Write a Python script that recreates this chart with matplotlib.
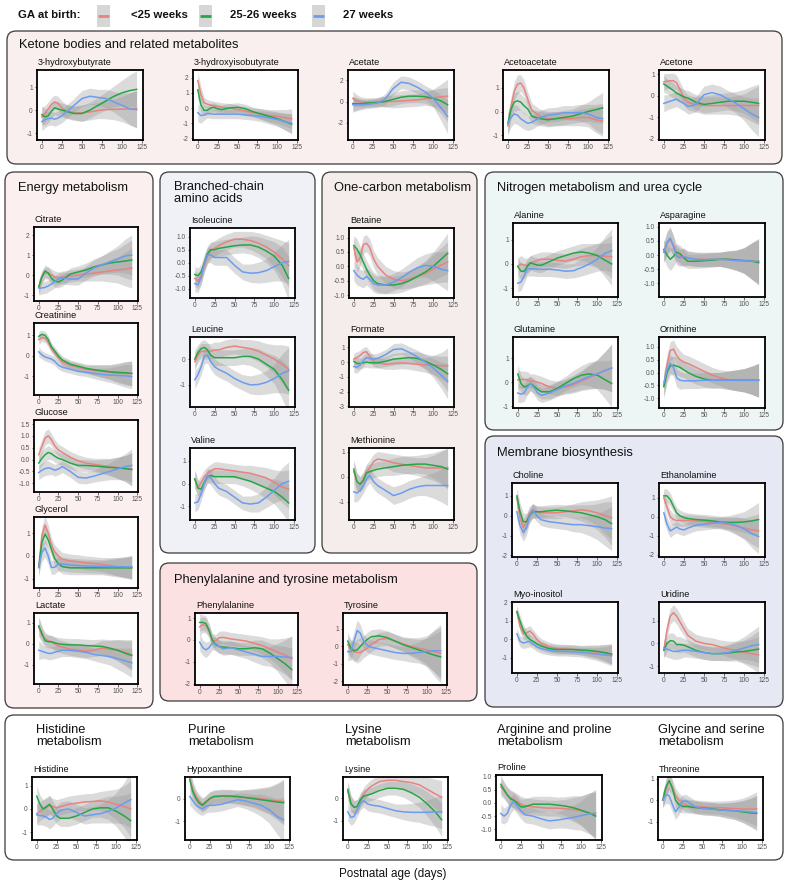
import matplotlib
matplotlib.use("Agg")
import matplotlib.pyplot as plt
from matplotlib.patches import FancyBboxPatch, Rectangle

plt.rcParams['font.family'] = ['Liberation Sans', 'DejaVu Sans']
plt.rcParams['axes.unicode_minus'] = False

# ---------------- data ----------------
DAYS = [0, 4, 8, 12, 16, 20, 25, 30, 40, 50, 60, 70, 80, 90, 100, 110, 118]
GROUPS = ["<25 weeks", "25-26 weeks", "27 weeks"]
GROUP_COLORS = ["#e8837f", "#24a744", "#6a9cf2"]
XTICKS = [0, 25, 50, 75, 100, 125]

LT25 = {
    "3-hydroxybutyrate": [-0.3, -0.15, 0.05, 0.25, 0.35, 0.3, 0.1, -0.05, -0.12, -0.12, -0.08, -0.02, 0.02, 0.03, 0.04, 0.05, 0.05],
    "3-hydroxyisobutyrate": [1.8, 0.9, 0.35, 0.25, 0.2, 0.15, 0.1, 0.05, 0.0, -0.1, -0.2, -0.3, -0.4, -0.5, -0.55, -0.65, -0.7],
    "Acetate": [0.3, 0.1, 0.0, -0.05, -0.05, -0.05, -0.05, 0.0, 0.0, 0.0, 0.05, 0.1, 0.15, 0.25, 0.35, 0.45, 0.5],
    "Acetoacetate": [-0.6, 0.2, 0.85, 1.15, 1.2, 1.0, 0.5, 0.05, -0.2, -0.3, -0.3, -0.3, -0.3, -0.25, -0.25, -0.35, -0.4],
    "Acetone": [0.65, 0.68, 0.7, 0.7, 0.6, 0.3, -0.1, -0.3, -0.4, -0.45, -0.45, -0.45, -0.45, -0.45, -0.45, -0.45, -0.45],
    "Citrate": [-0.6, -0.1, 0.1, 0.1, 0.0, -0.1, -0.15, -0.1, -0.05, 0.0, 0.05, 0.1, 0.15, 0.2, 0.25, 0.3, 0.35],
    "Creatinine": [0.8, 0.9, 0.85, 0.65, 0.35, 0.15, -0.1, -0.3, -0.45, -0.55, -0.65, -0.7, -0.75, -0.8, -0.85, -0.85, -0.85],
    "Glucose": [0.2, 0.55, 0.9, 1.0, 0.85, 0.6, 0.4, 0.3, 0.1, -0.05, -0.15, -0.2, -0.25, -0.3, -0.35, -0.38, -0.4],
    "Glycerol": [-0.5, 0.9, 1.35, 1.0, 0.5, 0.2, 0.0, -0.15, -0.22, -0.25, -0.3, -0.33, -0.37, -0.42, -0.47, -0.5, -0.5],
    "Lactate": [0.8, 0.4, 0.25, 0.15, 0.1, 0.0, -0.1, -0.15, -0.25, -0.3, -0.35, -0.3, -0.2, -0.25, -0.3, -0.4, -0.5],
    "Isoleucine": [-0.6, -0.7, -0.5, -0.1, 0.25, 0.45, 0.55, 0.65, 0.8, 0.9, 0.9, 0.85, 0.75, 0.6, 0.4, 0.15, -0.1],
    "Leucine": [-0.1, 0.15, 0.3, 0.3, 0.3, 0.3, 0.35, 0.35, 0.45, 0.5, 0.45, 0.4, 0.3, 0.15, 0.0, -0.2, -0.4],
    "Valine": [0.2, -0.2, 0.05, 0.3, 0.45, 0.55, 0.65, 0.65, 0.6, 0.55, 0.5, 0.45, 0.35, 0.25, 0.05, -0.15, -0.25],
    "Betaine": [0.65, 0.15, 0.3, 0.75, 0.8, 0.65, 0.25, 0.0, -0.3, -0.45, -0.5, -0.45, -0.35, -0.25, -0.1, 0.05, 0.15],
    "Formate": [0.2, 0.3, 0.45, 0.65, 0.7, 0.4, 0.05, -0.05, -0.15, -0.1, -0.05, -0.1, -0.15, -0.2, -0.2, -0.25, -0.25],
    "Methionine": [0.2, -0.2, -0.3, -0.1, 0.2, 0.35, 0.6, 0.7, 0.65, 0.55, 0.5, 0.45, 0.4, 0.35, 0.35, 0.35, 0.35],
    "Phenylalanine": [0.6, 0.7, 0.65, 0.4, 0.0, -0.05, 0.1, 0.12, 0.05, 0.0, -0.05, -0.15, -0.25, -0.4, -0.55, -0.7, -0.85],
    "Tyrosine": [0.1, -0.2, -0.3, -0.35, -0.35, -0.25, -0.1, 0.1, 0.4, 0.45, 0.3, 0.15, 0.0, -0.1, -0.2, -0.3, -0.4],
    "Alanine": [-0.1, 0.0, -0.05, -0.05, 0.05, 0.1, 0.15, 0.2, 0.2, 0.15, 0.12, 0.2, 0.3, 0.35, 0.35, 0.32, 0.3],
    "Asparagine": [0.1, 0.4, 0.55, 0.35, 0.05, -0.05, -0.1, -0.12, -0.15, -0.15, -0.15, -0.15, -0.15, -0.17, -0.18, -0.2, -0.22],
    "Glutamine": [0.1, 0.12, 0.12, 0.1, 0.05, 0.05, 0.0, -0.05, -0.2, -0.25, -0.2, -0.1, 0.05, 0.2, 0.35, 0.5, 0.6],
    "Ornithine": [-0.5, 0.3, 0.85, 0.9, 0.65, 0.5, 0.4, 0.35, 0.2, 0.05, -0.1, -0.2, -0.28, -0.3, -0.3, -0.3, -0.3],
    "Choline": [0.9, -0.1, -0.6, -0.3, 0.15, 0.25, 0.2, 0.15, 0.15, 0.15, 0.2, 0.25, 0.3, 0.25, 0.15, 0.0, -0.1],
    "Ethanolamine": [1.0, 0.5, 0.0, -0.15, -0.2, -0.2, -0.2, -0.2, -0.22, -0.25, -0.3, -0.35, -0.4, -0.5, -0.6, -0.7, -0.75],
    "Myo-inositol": [1.5, 0.7, 0.3, 0.35, 0.45, 0.3, 0.0, -0.2, -0.4, -0.5, -0.52, -0.55, -0.6, -0.65, -0.7, -0.75, -0.8],
    "Uridine": [-0.3, 0.6, 1.2, 1.35, 1.2, 0.95, 0.65, 0.35, 0.1, 0.0, -0.05, -0.15, -0.25, -0.3, -0.4, -0.45, -0.5],
    "Histidine": [-0.2, -0.1, 0.0, 0.05, 0.15, 0.1, 0.05, 0.1, 0.2, 0.25, 0.3, 0.32, 0.35, 0.3, 0.2, 0.1, 0.0],
    "Hypoxanthine": [0.9, 0.4, 0.1, -0.1, -0.25, -0.2, 0.0, 0.05, 0.1, 0.1, 0.05, 0.05, 0.05, 0.0, -0.05, -0.1, -0.12],
    "Lysine": [0.3, -0.2, -0.4, -0.35, -0.1, 0.2, 0.4, 0.55, 0.75, 0.8, 0.8, 0.75, 0.7, 0.6, 0.4, 0.2, 0.05],
    "Proline": [0.6, 0.45, 0.3, 0.2, 0.12, 0.05, -0.05, -0.1, -0.15, -0.18, -0.2, -0.2, -0.22, -0.25, -0.3, -0.38, -0.45],
    "Threonine": [0.0, 0.5, 0.9, 0.6, 0.2, 0.0, -0.15, -0.25, -0.3, -0.32, -0.35, -0.35, -0.38, -0.4, -0.42, -0.42, -0.42],
}

W2526 = {
    "3-hydroxybutyrate": [-0.2, -0.3, -0.25, -0.05, 0.1, 0.05, 0.0, -0.05, -0.15, -0.15, 0.0, 0.2, 0.4, 0.6, 0.75, 0.85, 0.9],
    "3-hydroxyisobutyrate": [1.2, 0.2, -0.15, -0.15, 0.0, 0.05, -0.05, -0.1, 0.0, 0.05, -0.05, -0.25, -0.4, -0.55, -0.7, -0.9, -1.05],
    "Acetate": [-0.2, -0.2, -0.2, -0.2, -0.15, -0.15, -0.12, -0.1, 0.0, 0.2, 0.4, 0.5, 0.5, 0.45, 0.3, 0.05, -0.3],
    "Acetoacetate": [-0.5, 0.1, 0.4, 0.45, 0.4, 0.25, 0.1, -0.2, -0.3, -0.35, -0.3, -0.25, -0.2, -0.1, 0.0, 0.08, 0.15],
    "Acetone": [0.55, 0.45, 0.35, 0.25, 0.12, 0.05, -0.05, -0.1, -0.3, -0.4, -0.35, -0.3, -0.25, -0.25, -0.25, -0.3, -0.35],
    "Citrate": [-0.6, -0.1, 0.2, 0.1, -0.15, -0.3, -0.35, -0.25, 0.05, 0.15, 0.25, 0.4, 0.5, 0.6, 0.65, 0.7, 0.75],
    "Creatinine": [0.95, 1.05, 1.0, 0.8, 0.45, 0.25, 0.0, -0.2, -0.4, -0.5, -0.6, -0.67, -0.72, -0.77, -0.8, -0.82, -0.85],
    "Glucose": [-0.15, 0.05, 0.2, 0.3, 0.25, 0.15, 0.05, 0.0, -0.15, -0.25, -0.25, -0.27, -0.3, -0.33, -0.35, -0.38, -0.42],
    "Glycerol": [-0.5, 0.6, 0.95, 0.7, 0.3, -0.1, -0.35, -0.47, -0.52, -0.52, -0.52, -0.52, -0.52, -0.52, -0.52, -0.52, -0.52],
    "Lactate": [0.85, 0.5, 0.15, 0.1, 0.1, 0.05, 0.0, -0.02, -0.05, -0.05, -0.08, -0.1, -0.12, -0.2, -0.3, -0.45, -0.55],
    "Isoleucine": [-0.45, -0.5, -0.35, 0.0, 0.35, 0.5, 0.5, 0.55, 0.6, 0.65, 0.68, 0.68, 0.6, 0.45, 0.25, -0.1, -0.6],
    "Leucine": [0.0, 0.25, 0.4, 0.45, 0.35, 0.15, 0.05, 0.05, 0.05, 0.05, 0.1, 0.1, 0.0, -0.2, -0.4, -0.8, -1.2],
    "Valine": [0.2, -0.2, -0.25, 0.05, 0.3, 0.35, 0.3, 0.3, 0.3, 0.3, 0.2, 0.1, -0.05, -0.2, -0.35, -0.6, -0.85],
    "Betaine": [0.72, 0.6, 0.4, 0.15, -0.1, -0.3, -0.5, -0.6, -0.65, -0.65, -0.6, -0.5, -0.35, -0.2, 0.0, 0.25, 0.45],
    "Formate": [0.05, -0.1, -0.1, -0.05, 0.0, -0.05, -0.05, -0.05, 0.05, 0.2, 0.25, 0.3, 0.25, 0.05, -0.2, -0.5, -0.8],
    "Methionine": [0.3, -0.2, -0.3, -0.15, 0.15, 0.2, 0.25, 0.3, 0.35, 0.4, 0.45, 0.48, 0.5, 0.5, 0.45, 0.4, 0.3],
    "Phenylalanine": [0.8, 0.8, 0.75, 0.45, 0.0, -0.2, -0.3, -0.32, -0.35, -0.4, -0.4, -0.35, -0.4, -0.6, -0.85, -1.1, -1.35],
    "Tyrosine": [0.3, -0.1, -0.25, -0.2, 0.0, 0.2, 0.4, 0.55, 0.6, 0.5, 0.3, 0.1, -0.05, -0.2, -0.35, -0.5, -0.6],
    "Alanine": [-0.1, -0.3, -0.3, -0.1, 0.05, 0.0, -0.05, -0.05, 0.1, 0.25, 0.35, 0.45, 0.5, 0.45, 0.35, 0.15, 0.0],
    "Asparagine": [0.2, 0.0, -0.15, -0.05, 0.1, 0.05, -0.1, -0.22, -0.22, -0.2, -0.18, -0.15, -0.15, -0.18, -0.2, -0.22, -0.27],
    "Glutamine": [0.35, -0.05, -0.2, -0.15, -0.05, -0.15, -0.3, -0.4, -0.4, -0.25, -0.05, 0.15, 0.3, 0.35, 0.3, 0.1, -0.05],
    "Ornithine": [-0.55, 0.0, 0.25, 0.28, 0.25, 0.2, 0.1, 0.0, -0.15, -0.25, -0.3, -0.3, -0.3, -0.3, -0.3, -0.3, -0.3],
    "Choline": [1.0, 0.2, -0.3, -0.3, 0.0, 0.2, 0.2, 0.2, 0.25, 0.28, 0.25, 0.2, 0.15, 0.05, -0.05, -0.2, -0.4],
    "Ethanolamine": [1.1, 1.1, 0.9, 0.55, 0.2, 0.05, -0.05, -0.1, -0.15, -0.18, -0.22, -0.28, -0.3, -0.3, -0.28, -0.22, -0.15],
    "Myo-inositol": [1.5, 1.0, 0.5, 0.2, 0.0, -0.1, -0.25, -0.35, -0.5, -0.55, -0.55, -0.55, -0.58, -0.6, -0.65, -0.72, -0.8],
    "Uridine": [-0.3, 0.0, 0.12, 0.1, -0.05, -0.05, -0.08, -0.15, -0.3, -0.4, -0.45, -0.45, -0.42, -0.38, -0.35, -0.3, -0.25],
    "Histidine": [0.55, 0.2, 0.0, 0.1, 0.2, 0.0, -0.3, -0.4, -0.4, -0.3, -0.15, 0.0, 0.05, 0.05, -0.1, -0.3, -0.5],
    "Hypoxanthine": [0.85, 0.3, 0.0, -0.2, -0.3, -0.15, 0.0, 0.1, 0.12, 0.12, 0.1, 0.05, 0.0, -0.05, -0.1, -0.15, -0.18],
    "Lysine": [0.4, -0.25, -0.4, -0.35, -0.05, 0.1, 0.15, 0.2, 0.35, 0.45, 0.45, 0.4, 0.25, 0.05, -0.25, -0.6, -0.95],
    "Proline": [0.7, 0.5, 0.3, 0.15, 0.1, 0.0, -0.15, -0.15, -0.05, -0.05, -0.05, -0.08, -0.12, -0.18, -0.28, -0.38, -0.5],
    "Threonine": [0.0, 0.6, 0.9, 0.55, 0.0, -0.2, -0.3, -0.3, -0.35, -0.38, -0.4, -0.45, -0.48, -0.5, -0.55, -0.6, -0.62],
}

W27 = {
    "3-hydroxybutyrate": [-0.5, -0.42, -0.37, -0.35, -0.4, -0.35, -0.25, -0.1, 0.2, 0.5, 0.6, 0.55, 0.5, 0.35, 0.2, 0.05, 0.02],
    "3-hydroxyisobutyrate": [-0.3, -0.5, -0.45, -0.35, -0.38, -0.4, -0.4, -0.4, -0.4, -0.4, -0.45, -0.5, -0.55, -0.65, -0.75, -0.9, -1.0],
    "Acetate": [-0.3, -0.3, -0.3, -0.3, -0.28, -0.25, -0.2, -0.15, 0.2, 1.2, 1.8, 1.7, 1.35, 0.9, 0.3, -0.6, -1.4],
    "Acetoacetate": [-0.5, -0.25, -0.1, -0.15, -0.3, -0.4, -0.5, -0.45, -0.25, -0.15, -0.12, -0.05, -0.05, -0.05, -0.1, -0.25, -0.3],
    "Acetone": [-0.35, -0.3, -0.25, -0.2, -0.15, -0.25, -0.35, -0.5, -0.4, 0.05, 0.15, 0.05, -0.15, -0.35, -0.6, -0.85, -1.0],
    "Citrate": [-0.65, -0.65, -0.62, -0.55, -0.45, -0.35, -0.2, -0.15, -0.2, -0.2, 0.1, 0.35, 0.5, 0.65, 0.8, 0.95, 1.0],
    "Creatinine": [0.2, 0.05, -0.05, -0.1, -0.15, -0.25, -0.45, -0.55, -0.65, -0.75, -0.8, -0.85, -0.9, -0.93, -0.95, -0.97, -1.0],
    "Glucose": [-0.55, -0.45, -0.38, -0.35, -0.38, -0.45, -0.4, -0.3, -0.5, -0.75, -0.78, -0.7, -0.6, -0.5, -0.4, -0.3, -0.25],
    "Glycerol": [-0.5, 0.15, 0.35, 0.0, -0.5, -0.5, -0.35, -0.35, -0.4, -0.42, -0.44, -0.45, -0.46, -0.47, -0.47, -0.48, -0.48],
    "Lactate": [-0.3, -0.35, -0.4, -0.45, -0.45, -0.4, -0.35, -0.3, -0.3, -0.35, -0.4, -0.5, -0.55, -0.6, -0.7, -0.8, -0.9],
    "Isoleucine": [-0.8, -0.85, -0.55, 0.0, 0.3, 0.3, 0.2, 0.2, 0.2, -0.1, -0.35, -0.4, -0.38, -0.3, -0.15, 0.0, 0.05],
    "Leucine": [-0.8, -0.6, -0.3, 0.1, 0.15, -0.1, -0.3, -0.4, -0.55, -0.75, -0.9, -1.0, -0.98, -0.9, -0.75, -0.55, -0.45],
    "Valine": [-0.85, -0.8, -0.45, 0.0, 0.35, 0.25, 0.0, -0.2, -0.35, -0.6, -0.85, -0.9, -0.85, -0.6, -0.3, 0.0, 0.1],
    "Betaine": [-0.15, -0.3, -0.4, -0.45, -0.35, -0.45, -0.6, -0.65, -0.65, -0.55, -0.4, -0.2, -0.05, 0.03, 0.0, -0.1, -0.15],
    "Formate": [-0.3, -0.35, -0.2, 0.1, 0.3, 0.25, 0.2, 0.25, 0.5, 0.85, 0.9, 0.65, 0.35, 0.0, -0.4, -0.9, -1.3],
    "Methionine": [-0.6, -0.65, -0.55, -0.35, -0.1, 0.05, -0.2, -0.35, -0.55, -0.75, -0.65, -0.5, -0.4, -0.35, -0.35, -0.35, -0.35],
    "Phenylalanine": [-0.1, -0.35, -0.45, -0.35, -0.15, -0.15, -0.3, -0.4, -0.35, -0.45, -0.55, -0.65, -0.75, -0.75, -0.75, -0.78, -0.8],
    "Tyrosine": [-0.3, -0.3, 0.3, 0.9, 0.75, 0.3, 0.05, -0.05, -0.15, -0.25, -0.35, -0.4, -0.4, -0.35, -0.3, -0.25, -0.25],
    "Alanine": [-0.8, -0.75, -0.5, -0.2, -0.2, -0.2, -0.22, -0.22, -0.22, -0.25, -0.3, -0.28, -0.15, 0.0, 0.2, 0.45, 0.55],
    "Asparagine": [0.1, 0.45, 0.6, 0.3, -0.05, -0.1, -0.05, -0.1, -0.15, -0.17, -0.15, -0.15, -0.17, -0.2, -0.2, -0.22, -0.22],
    "Glutamine": [-0.45, -0.5, -0.45, -0.2, -0.05, -0.2, -0.45, -0.55, -0.45, -0.3, -0.15, -0.05, 0.1, 0.25, 0.35, 0.5, 0.6],
    "Ornithine": [-0.4, 0.1, 0.35, 0.2, -0.2, -0.3, -0.32, -0.32, -0.32, -0.3, -0.3, -0.3, -0.3, -0.3, -0.3, -0.3, -0.3],
    "Choline": [0.2, -0.5, -0.85, -0.6, 0.0, 0.3, 0.0, -0.2, -0.3, -0.35, -0.4, -0.45, -0.45, -0.5, -0.55, -0.62, -0.65],
    "Ethanolamine": [0.2, -0.4, -0.75, -0.65, -0.55, -0.65, -0.7, -0.6, -0.45, -0.4, -0.35, -0.3, -0.35, -0.45, -0.65, -0.9, -1.05],
    "Myo-inositol": [0.3, -0.1, -0.2, -0.15, -0.1, -0.25, -0.4, -0.5, -0.6, -0.65, -0.65, -0.68, -0.7, -0.75, -0.8, -0.85, -0.88],
    "Uridine": [-0.2, -0.25, -0.3, -0.35, -0.35, -0.32, -0.3, -0.3, -0.35, -0.4, -0.45, -0.45, -0.4, -0.3, -0.2, -0.1, -0.05],
    "Histidine": [-0.25, -0.28, -0.3, -0.35, -0.45, -0.4, -0.2, -0.05, 0.0, -0.15, -0.3, -0.25, -0.2, -0.1, 0.05, 0.25, 0.4],
    "Hypoxanthine": [0.1, -0.1, -0.3, -0.4, -0.45, -0.35, -0.3, -0.3, -0.25, -0.15, -0.05, -0.1, -0.2, -0.3, -0.5, -0.8, -0.95],
    "Lysine": [-0.6, -0.85, -0.8, -0.5, -0.2, -0.1, -0.25, -0.3, -0.35, -0.45, -0.55, -0.6, -0.62, -0.62, -0.62, -0.6, -0.6],
    "Proline": [-0.4, -0.5, -0.4, -0.1, 0.05, -0.1, -0.3, -0.45, -0.5, -0.6, -0.68, -0.65, -0.6, -0.55, -0.48, -0.42, -0.38],
    "Threonine": [0.0, 0.25, 0.2, -0.2, -0.55, -0.35, -0.05, -0.05, -0.3, -0.4, -0.42, -0.45, -0.48, -0.5, -0.52, -0.55, -0.58],
}

BAND = {
    "3-hydroxybutyrate": [0.4, 0.35, 0.3, 0.3, 0.3, 0.3, 0.3, 0.3, 0.3, 0.35, 0.35, 0.35, 0.4, 0.45, 0.55, 0.7, 0.8],
    "3-hydroxyisobutyrate": [0.6, 0.5, 0.35, 0.3, 0.3, 0.3, 0.3, 0.3, 0.3, 0.3, 0.3, 0.3, 0.35, 0.4, 0.45, 0.55, 0.65],
    "Acetate": [0.7, 0.6, 0.5, 0.45, 0.4, 0.4, 0.4, 0.4, 0.5, 0.6, 0.6, 0.6, 0.6, 0.6, 0.8, 1.2, 1.6],
    "Acetoacetate": [0.45, 0.4, 0.4, 0.4, 0.35, 0.35, 0.3, 0.3, 0.3, 0.3, 0.3, 0.3, 0.3, 0.35, 0.4, 0.55, 0.65],
    "Acetone": [0.4, 0.35, 0.35, 0.35, 0.35, 0.35, 0.35, 0.35, 0.35, 0.4, 0.4, 0.4, 0.4, 0.45, 0.55, 0.75, 0.9],
    "Citrate": [0.35, 0.3, 0.3, 0.3, 0.3, 0.3, 0.3, 0.3, 0.3, 0.3, 0.35, 0.4, 0.45, 0.55, 0.65, 0.85, 1.0],
    "Creatinine": [0.25, 0.2, 0.2, 0.2, 0.2, 0.2, 0.2, 0.2, 0.2, 0.2, 0.2, 0.25, 0.3, 0.35, 0.45, 0.55, 0.6],
    "Glucose": [0.3, 0.3, 0.3, 0.3, 0.25, 0.25, 0.25, 0.25, 0.25, 0.25, 0.25, 0.25, 0.3, 0.35, 0.45, 0.55, 0.7],
    "Glycerol": [0.35, 0.4, 0.4, 0.35, 0.3, 0.3, 0.3, 0.3, 0.3, 0.3, 0.3, 0.3, 0.3, 0.35, 0.4, 0.45, 0.5],
    "Lactate": [0.45, 0.35, 0.3, 0.3, 0.3, 0.3, 0.3, 0.3, 0.3, 0.3, 0.3, 0.3, 0.35, 0.4, 0.5, 0.6, 0.7],
    "Isoleucine": [0.3, 0.3, 0.3, 0.3, 0.3, 0.3, 0.3, 0.3, 0.3, 0.3, 0.3, 0.35, 0.4, 0.45, 0.55, 0.7, 0.85],
    "Leucine": [0.35, 0.3, 0.3, 0.3, 0.3, 0.3, 0.3, 0.3, 0.3, 0.3, 0.3, 0.35, 0.4, 0.45, 0.55, 0.75, 0.9],
    "Valine": [0.4, 0.35, 0.3, 0.3, 0.3, 0.3, 0.3, 0.3, 0.3, 0.3, 0.3, 0.35, 0.4, 0.45, 0.55, 0.7, 0.85],
    "Betaine": [0.35, 0.35, 0.3, 0.3, 0.3, 0.3, 0.3, 0.3, 0.3, 0.3, 0.3, 0.3, 0.35, 0.4, 0.5, 0.6, 0.7],
    "Formate": [0.4, 0.4, 0.35, 0.35, 0.35, 0.35, 0.35, 0.35, 0.35, 0.4, 0.4, 0.4, 0.45, 0.5, 0.65, 0.9, 1.2],
    "Methionine": [0.4, 0.35, 0.3, 0.3, 0.3, 0.3, 0.3, 0.3, 0.3, 0.35, 0.35, 0.35, 0.35, 0.4, 0.5, 0.65, 0.8],
    "Phenylalanine": [0.4, 0.35, 0.35, 0.3, 0.3, 0.3, 0.3, 0.3, 0.3, 0.3, 0.3, 0.35, 0.4, 0.45, 0.6, 0.8, 1.0],
    "Tyrosine": [0.5, 0.5, 0.55, 0.6, 0.5, 0.4, 0.4, 0.4, 0.4, 0.4, 0.4, 0.4, 0.5, 0.6, 0.8, 1.2, 1.5],
    "Alanine": [0.35, 0.35, 0.3, 0.3, 0.3, 0.3, 0.3, 0.3, 0.3, 0.3, 0.3, 0.3, 0.35, 0.4, 0.5, 0.7, 0.9],
    "Asparagine": [0.35, 0.4, 0.4, 0.35, 0.3, 0.3, 0.3, 0.25, 0.25, 0.25, 0.25, 0.25, 0.3, 0.35, 0.45, 0.65, 0.8],
    "Glutamine": [0.4, 0.35, 0.35, 0.35, 0.3, 0.3, 0.3, 0.3, 0.3, 0.3, 0.3, 0.35, 0.4, 0.5, 0.6, 0.8, 1.0],
    "Ornithine": [0.45, 0.4, 0.35, 0.35, 0.35, 0.35, 0.3, 0.3, 0.3, 0.3, 0.3, 0.3, 0.35, 0.4, 0.45, 0.55, 0.65],
    "Choline": [0.4, 0.45, 0.45, 0.4, 0.35, 0.35, 0.3, 0.3, 0.3, 0.3, 0.3, 0.35, 0.4, 0.5, 0.65, 0.9, 1.1],
    "Ethanolamine": [0.4, 0.35, 0.35, 0.3, 0.3, 0.3, 0.3, 0.3, 0.3, 0.3, 0.3, 0.3, 0.35, 0.45, 0.55, 0.75, 0.9],
    "Myo-inositol": [0.3, 0.3, 0.3, 0.3, 0.3, 0.25, 0.25, 0.25, 0.25, 0.25, 0.25, 0.25, 0.25, 0.3, 0.35, 0.45, 0.55],
    "Uridine": [0.35, 0.35, 0.35, 0.35, 0.35, 0.35, 0.3, 0.3, 0.3, 0.3, 0.3, 0.3, 0.35, 0.4, 0.5, 0.65, 0.8],
    "Histidine": [0.45, 0.4, 0.4, 0.4, 0.4, 0.35, 0.35, 0.35, 0.35, 0.35, 0.35, 0.35, 0.4, 0.5, 0.65, 0.9, 1.2],
    "Hypoxanthine": [0.4, 0.35, 0.3, 0.3, 0.3, 0.3, 0.3, 0.3, 0.3, 0.3, 0.3, 0.35, 0.4, 0.5, 0.6, 0.8, 1.0],
    "Lysine": [0.4, 0.35, 0.3, 0.3, 0.3, 0.3, 0.3, 0.3, 0.3, 0.3, 0.3, 0.35, 0.4, 0.45, 0.55, 0.65, 0.75],
    "Proline": [0.35, 0.3, 0.3, 0.3, 0.3, 0.3, 0.3, 0.3, 0.3, 0.3, 0.3, 0.3, 0.35, 0.45, 0.55, 0.75, 0.9],
    "Threonine": [0.35, 0.4, 0.4, 0.35, 0.35, 0.35, 0.3, 0.3, 0.3, 0.3, 0.3, 0.3, 0.35, 0.4, 0.5, 0.65, 0.8],
}

YLIM = {
    "3-hydroxybutyrate": (-1.3, 1.74), "3-hydroxyisobutyrate": (-2.1, 2.5), "Acetate": (-3.6, 2.95),
    "Acetoacetate": (-1.2, 1.75), "Acetone": (-2.05, 1.2),
    "Citrate": (-1.3, 2.4), "Creatinine": (-1.9, 1.6), "Glucose": (-1.37, 1.67),
    "Glycerol": (-1.4, 1.7), "Lactate": (-1.9, 1.46),
    "Isoleucine": (-1.35, 1.33), "Leucine": (-1.85, 0.85), "Valine": (-1.6, 1.56),
    "Betaine": (-1.1, 1.33), "Formate": (-3.05, 1.7), "Methionine": (-1.72, 1.14),
    "Phenylalanine": (-2.05, 1.23), "Tyrosine": (-2.2, 1.9),
    "Alanine": (-1.37, 1.7), "Asparagine": (-1.48, 1.13), "Glutamine": (-1.08, 1.9), "Ornithine": (-1.37, 1.37),
    "Choline": (-2.08, 1.65), "Ethanolamine": (-2.13, 1.78), "Myo-inositol": (-1.82, 2.02), "Uridine": (-1.3, 1.82),
    "Histidine": (-1.33, 1.37), "Hypoxanthine": (-1.85, 0.97), "Lysine": (-1.85, 0.95),
    "Proline": (-1.4, 1.05), "Threonine": (-1.86, 1.07),
}

YTICKS = {
    "3-hydroxybutyrate": [-1, 0, 1], "3-hydroxyisobutyrate": [-2, -1, 0, 1, 2], "Acetate": [-2, 0, 2],
    "Acetoacetate": [-1, 0, 1], "Acetone": [-2, -1, 0, 1],
    "Citrate": [-1, 0, 1, 2], "Creatinine": [-1, 0, 1], "Glucose": [-1.0, -0.5, 0.0, 0.5, 1.0, 1.5],
    "Glycerol": [-1, 0, 1], "Lactate": [-1, 0, 1],
    "Isoleucine": [-1.0, -0.5, 0.0, 0.5, 1.0], "Leucine": [-1, 0], "Valine": [-1, 0, 1],
    "Betaine": [-1.0, -0.5, 0.0, 0.5, 1.0], "Formate": [-3, -2, -1, 0, 1], "Methionine": [-1, 0, 1],
    "Phenylalanine": [-2, -1, 0, 1], "Tyrosine": [-2, -1, 0, 1],
    "Alanine": [-1, 0, 1], "Asparagine": [-1.0, -0.5, 0.0, 0.5, 1.0], "Glutamine": [-1, 0, 1],
    "Ornithine": [-1.0, -0.5, 0.0, 0.5, 1.0],
    "Choline": [-2, -1, 0, 1], "Ethanolamine": [-2, -1, 0, 1], "Myo-inositol": [-1, 0, 1, 2], "Uridine": [-1, 0, 1],
    "Histidine": [-1, 0, 1], "Hypoxanthine": [-1, 0], "Lysine": [-1, 0],
    "Proline": [-1.0, -0.5, 0.0, 0.5, 1.0], "Threonine": [-1, 0, 1],
}

# ---------------- layout (pixels) ----------------
W, H = 789, 886
PANELS = {
    "3-hydroxybutyrate": (37, 70, 143, 140), "3-hydroxyisobutyrate": (193, 70, 298, 140),
    "Acetate": (348, 70, 454, 140), "Acetoacetate": (503, 70, 609, 140), "Acetone": (659, 70, 765, 140),
    "Citrate": (34, 227, 138, 301), "Creatinine": (34, 323, 138, 395), "Glucose": (34, 420, 138, 492),
    "Glycerol": (34, 517, 138, 588), "Lactate": (34, 613, 138, 684),
    "Isoleucine": (190, 228, 295, 298), "Leucine": (190, 337, 295, 407), "Valine": (190, 448, 295, 520),
    "Betaine": (349, 228, 454, 298), "Formate": (349, 337, 454, 407), "Methionine": (349, 448, 454, 520),
    "Phenylalanine": (195, 613, 298, 685), "Tyrosine": (343, 613, 447, 685),
    "Alanine": (513, 223, 618, 297), "Asparagine": (659, 223, 765, 297),
    "Glutamine": (513, 337, 618, 408), "Ornithine": (659, 337, 765, 408),
    "Choline": (512, 483, 618, 557), "Ethanolamine": (659, 483, 765, 557),
    "Myo-inositol": (512, 602, 618, 673), "Uridine": (659, 602, 765, 673),
    "Histidine": (32, 777, 137, 840), "Hypoxanthine": (185, 777, 290, 840), "Lysine": (343, 777, 448, 840),
    "Proline": (496, 775, 602, 840), "Threonine": (658, 777, 763, 840),
}

BOXES = [  # (x0, y0, x1, y1, facecolor)
    (7, 31, 782, 164, "#f8efee"),
    (5, 172, 153, 708, "#fcefef"),
    (160, 172, 315, 553, "#f0f1f7"),
    (322, 172, 477, 553, "#f5edeb"),
    (160, 563, 477, 701, "#fce1e2"),
    (485, 172, 783, 430, "#eef5f5"),
    (485, 436, 783, 707, "#e6e9f3"),
    (5, 715, 783, 860, "#ffffff"),
]

GROUP_TITLES = [
    (19, 45, "Ketone bodies and related metabolites"),
    (18, 188, "Energy metabolism"),
    (174, 193, "Branched-chain\namino acids"),
    (334, 188, "One-carbon metabolism"),
    (174, 580, "Phenylalanine and tyrosine metabolism"),
    (497, 188, "Nitrogen metabolism and urea cycle"),
    (497, 453, "Membrane biosynthesis"),
    (36, 736, "Histidine\nmetabolism"),
    (188, 736, "Purine\nmetabolism"),
    (345, 736, "Lysine\nmetabolism"),
    (497, 736, "Arginine and proline\nmetabolism"),
    (658, 736, "Glycine and serine\nmetabolism"),
]

fig = plt.figure(figsize=(W / 100, H / 100), dpi=100)
fig.patch.set_facecolor("white")

bg = fig.add_axes([0, 0, 1, 1])
bg.set_xlim(0, W)
bg.set_ylim(H, 0)
bg.axis("off")

for x0, y0, x1, y1, fc in BOXES:
    bg.add_patch(FancyBboxPatch((x0, y0), x1 - x0, y1 - y0,
                                boxstyle="round,pad=0,rounding_size=9",
                                fc=fc, ec="#3a3a3a", lw=0.9))

for x, y, s in GROUP_TITLES:
    bg.text(x, y, s, ha="left", va="center", fontsize=9.3, color="#111111", linespacing=1.08)

# legend
bg.text(18, 15, "GA at birth:", ha="left", va="center", fontsize=8.2, fontweight="bold", color="#111111")
key_x = [97, 199, 312]
lab_x = [131, 230, 343]
for kx, lx, lab, col in zip(key_x, lab_x, GROUPS, GROUP_COLORS):
    bg.add_patch(Rectangle((kx, 5), 13, 22, fc="#d6d6d6", ec="none"))
    bg.plot([kx + 1, kx + 12], [15.5, 15.5], color=col, lw=2.0, solid_capstyle="butt")
    bg.text(lx, 15, lab, ha="left", va="center", fontsize=8.2, fontweight="bold", color="#111111")

bg.text(393, 874, "Postnatal age (days)", ha="center", va="center", fontsize=8.4, color="#111111")

series = [LT25, W2526, W27]
for name, (l, t, r, b) in PANELS.items():
    ax = fig.add_axes([l / W, 1 - b / H, (r - l) / W, (b - t) / H])
    ax.set_facecolor("white")
    for s in series:
        y = s[name]
        lo = [v - w for v, w in zip(y, BAND[name])]
        hi = [v + w for v, w in zip(y, BAND[name])]
        ax.fill_between(DAYS, lo, hi, color="#999999", alpha=0.35, lw=0)
    for s, col in zip(series, GROUP_COLORS):
        ax.plot(DAYS, s[name], color=col, lw=1.1)
    ax.set_xlim(-6, 126)
    ax.set_ylim(*YLIM[name])
    ax.set_xticks(XTICKS)
    ax.set_xticklabels([str(v) for v in XTICKS])
    yt = YTICKS[name]
    ax.set_yticks(yt)
    if any(abs(v - round(v)) > 1e-9 for v in yt):
        ax.set_yticklabels(["%.1f" % v for v in yt])
    else:
        ax.set_yticklabels(["%d" % v for v in yt])
    for sp in ax.spines.values():
        sp.set_linewidth(1.3)
        sp.set_color("black")
    ax.tick_params(direction="out", length=1.8, width=0.5, color="#333333",
                   labelsize=4.8, labelcolor="#555555", pad=1.2)
    bg.text(l + 1, t - 7.5, name, ha="left", va="center", fontsize=6.6, color="#111111")

fig.savefig("out.png", dpi=100, facecolor="white")
